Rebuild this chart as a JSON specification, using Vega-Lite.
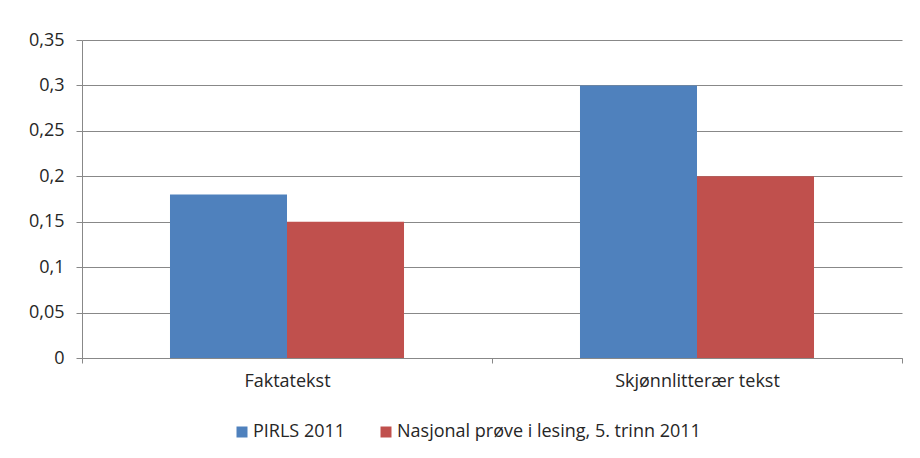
{
  "$schema": "https://vega.github.io/schema/vega-lite/v6.json",
  "autosize": "none",
  "width": 820,
  "height": 318,
  "padding": {"left": 82, "top": 40, "right": 18, "bottom": 100},
  "background": "white",
  "data": {
    "values": [
      {"tekst": "Faktatekst", "serie": "PIRLS 2011", "verdi": 0.18},
      {"tekst": "Faktatekst", "serie": "Nasjonal prøve i lesing, 5. trinn 2011", "verdi": 0.15},
      {"tekst": "Skjønnlitterær tekst", "serie": "PIRLS 2011", "verdi": 0.30},
      {"tekst": "Skjønnlitterær tekst", "serie": "Nasjonal prøve i lesing, 5. trinn 2011", "verdi": 0.20}
    ]
  },
  "mark": {"type": "bar"},
  "encoding": {
    "x": {
      "field": "tekst",
      "type": "nominal",
      "sort": null,
      "scale": {"paddingInner": 0, "paddingOuter": 0},
      "axis": {
        "title": null,
        "labelAngle": 0,
        "tickBand": "extent",
        "tickSize": 5,
        "labelPadding": 9,
        "domainColor": "#888888",
        "tickColor": "#888888",
        "labelFontSize": 18,
        "labelFont": "Open Sans",
        "labelColor": "#262626"
      }
    },
    "xOffset": {
      "field": "serie",
      "type": "nominal",
      "sort": ["PIRLS 2011", "Nasjonal prøve i lesing, 5. trinn 2011"],
      "scale": {"paddingInner": 0, "paddingOuter": 0.752}
    },
    "y": {
      "field": "verdi",
      "type": "quantitative",
      "scale": {"domain": [0, 0.35], "nice": false},
      "axis": {
        "title": null,
        "values": [0, 0.05, 0.1, 0.15, 0.2, 0.25, 0.3, 0.35],
        "labelExpr": "replace(format(datum.value, '.2~f'), '.', ',')",
        "grid": true,
        "gridColor": "#888888",
        "gridWidth": 1,
        "domainColor": "#888888",
        "tickColor": "#888888",
        "tickSize": 6,
        "labelPadding": 12,
        "labelFontSize": 18,
        "labelFont": "Open Sans",
        "labelColor": "#262626"
      }
    },
    "color": {
      "field": "serie",
      "type": "nominal",
      "sort": ["PIRLS 2011", "Nasjonal prøve i lesing, 5. trinn 2011"],
      "scale": {"range": ["#4F81BD", "#C0504D"]},
      "legend": {
        "title": null,
        "orient": "none",
        "legendX": 151,
        "legendY": 383,
        "padding": 0,
        "direction": "horizontal",
        "symbolType": "square",
        "symbolSize": 121,
        "symbolStrokeWidth": 0,
        "symbolOpacity": 1,
        "labelOffset": 2,
        "columnPadding": 31,
        "labelFontSize": 18,
        "labelFont": "Open Sans",
        "labelColor": "#262626",
        "labelLimit": 400
      }
    }
  },
  "config": {
    "view": {"stroke": null},
    "axis": {"domainWidth": 1, "tickWidth": 1}
  }
}
